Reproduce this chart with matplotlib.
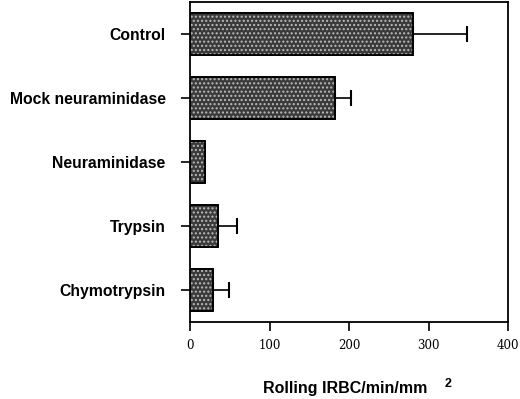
import matplotlib
matplotlib.use("Agg")
import matplotlib.pyplot as plt

categories = ["Control", "Mock neuraminidase", "Neuraminidase", "Trypsin", "Chymotrypsin"]
values = [280, 182, 19, 35, 29]
errors = [68, 21, 0, 24, 20]
xticks = [0, 100, 200, 300, 400]

fig = plt.figure(figsize=(5.2, 3.99), dpi=100)
ax = fig.add_axes([190/520, 1-322/399, 318/520, 320/399])

ypos = list(range(len(categories)))
ax.barh(ypos, values, height=0.66, color="#3a3a3a", edgecolor="black", linewidth=1.2, zorder=2)
ax.barh(ypos, values, height=0.66, color="none", edgecolor="#bbbbbb", hatch="....", linewidth=0, zorder=3)
ax.barh(ypos, values, height=0.66, color="none", edgecolor="black", linewidth=1.3, zorder=4)
for y, v, e in zip(ypos, values, errors):
    if e > 0:
        ax.errorbar([v], [y], xerr=[[0], [e]], fmt="none", ecolor="black", elinewidth=1.2, capsize=6, capthick=1.5, zorder=5)

ax.set_ylim(4.5, -0.5)
ax.set_xlim(0, 400)
ax.set_yticks(ypos)
ax.set_yticklabels(categories, fontfamily="Liberation Sans", fontweight="bold", fontsize=11.3)
ax.set_xticks(xticks)
ax.set_xticklabels([str(t) for t in xticks], fontfamily="DejaVu Serif", fontsize=8.5)
ax.tick_params(axis="y", direction="out", length=6.5, width=1.2, pad=11)
ax.tick_params(axis="x", direction="out", length=6.5, width=1.2, pad=6)
for s in ax.spines.values():
    s.set_linewidth(1.3)

fig.text(345/520, 1-388/399, "Rolling IRBC/min/mm", ha="center", va="center",
         fontfamily="Liberation Sans", fontweight="bold", fontsize=11.5)
fig.text(448/520, 1-384/399, "2", ha="center", va="center",
         fontfamily="Liberation Sans", fontweight="bold", fontsize=9)

fig.savefig("out.png", dpi=100)
